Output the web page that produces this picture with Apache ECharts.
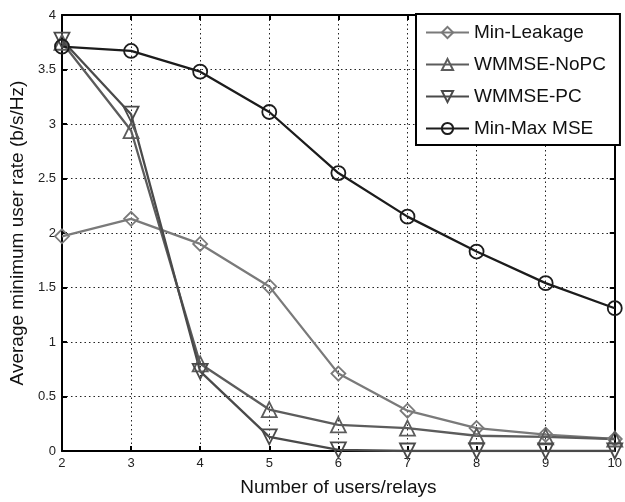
<!DOCTYPE html>
<html>
<head>
<meta charset="utf-8">
<script src="https://cdn.jsdelivr.net/npm/echarts@6/dist/echarts.min.js"></script>
<style>
  html, body { margin: 0; padding: 0; background: #fff; }
  #chart { width: 625px; height: 502px; }
</style>
</head>
<body>
<div id="chart"></div>
<script>
// Number of users/relays on the x axis
const userCounts = [2, 3, 4, 5, 6, 7, 8, 9, 10];

// Average minimum user rate (b/s/Hz) per scheme
const minLeakage = [1.97, 2.13, 1.90, 1.51, 0.71, 0.37, 0.21, 0.15, 0.11];
const wmmseNoPC  = [3.75, 2.94, 0.80, 0.38, 0.24, 0.21, 0.14, 0.13, 0.11];
const wmmsePC    = [3.77, 3.09, 0.73, 0.13, 0.01, 0.0, 0.0, 0.0, 0.0];
const minMaxMSE  = [3.71, 3.67, 3.48, 3.11, 2.55, 2.15, 1.83, 1.54, 1.31];

const seriesNames = ['Min-Leakage', 'WMMSE-NoPC', 'WMMSE-PC', 'Min-Max MSE'];

const FONT = 'Liberation Sans, Arial, sans-serif';

function pairs(values) {
  return userCounts.map((x, i) => [x, values[i]]);
}

function lineSeries(name, values, color, symbol, size, rotate) {
  return {
    name: name,
    type: 'line',
    data: pairs(values),
    symbol: symbol,
    symbolSize: size,
    symbolRotate: rotate || 0,
    showAllSymbol: true,
    lineStyle: { color: color, width: 2.3 },
    itemStyle: { color: 'transparent', borderColor: color, borderWidth: 1.8 },
    emphasis: { disabled: true },
    animation: false,
    z: 3
  };
}

const gridLine = { show: true, lineStyle: { color: '#222', type: [1.5, 3], width: 1 } };
const frameLine = { show: true, onZero: false, lineStyle: { color: '#000', width: 2 } };
const innerTick = { show: true, inside: true, length: 5, lineStyle: { color: '#000', width: 2 } };

const chart = echarts.init(document.getElementById('chart'), null, { renderer: 'canvas' });

chart.setOption({
  backgroundColor: '#fff',
  animation: false,
  textStyle: { fontFamily: FONT },
  grid: { left: 58, right: 5, top: 15, bottom: 45, containLabel: false },
  legend: {
    orient: 'vertical',
    left: 416,
    top: 14,
    data: seriesNames,
    backgroundColor: '#fff',
    borderColor: '#000',
    borderWidth: 2,
    padding: [9, 14, 7, 9],
    itemWidth: 43,
    itemHeight: 14,
    itemGap: 13,
    textStyle: { fontFamily: FONT, fontSize: 19, color: '#111' },
    z: 10
  },
  xAxis: [
    {
      type: 'value',
      min: 2,
      max: 10,
      interval: 1,
      name: 'Number of users/relays',
      nameLocation: 'middle',
      nameGap: 27,
      nameTextStyle: { fontFamily: FONT, fontSize: 19, color: '#111' },
      axisLine: frameLine,
      axisTick: innerTick,
      axisLabel: { fontFamily: FONT, fontSize: 13, color: '#222', margin: 6 },
      splitLine: gridLine
    },
    {
      type: 'value',
      position: 'top',
      min: 2,
      max: 10,
      interval: 1,
      axisLine: frameLine,
      axisTick: innerTick,
      axisLabel: { show: false },
      splitLine: { show: false }
    }
  ],
  yAxis: [
    {
      type: 'value',
      min: 0,
      max: 4,
      interval: 0.5,
      name: 'Average minimum user rate (b/s/Hz)',
      nameLocation: 'middle',
      nameGap: 22,
      nameTextStyle: { fontFamily: FONT, fontSize: 19, color: '#111' },
      axisLine: frameLine,
      axisTick: innerTick,
      axisLabel: { fontFamily: FONT, fontSize: 13, color: '#222', margin: 6 },
      splitLine: gridLine
    },
    {
      type: 'value',
      position: 'right',
      min: 0,
      max: 4,
      interval: 0.5,
      axisLine: frameLine,
      axisTick: innerTick,
      axisLabel: { show: false },
      splitLine: { show: false }
    }
  ],
  series: [
    lineSeries(seriesNames[0], minLeakage, '#7a7a7a', 'diamond', 14),
    lineSeries(seriesNames[1], wmmseNoPC, '#5c5c5c', 'triangle', 15),
    lineSeries(seriesNames[2], wmmsePC, '#4a4a4a', 'triangle', 15, 180),
    lineSeries(seriesNames[3], minMaxMSE, '#1c1c1c', 'circle', 14)
  ]
});
</script>
</body>
</html>
